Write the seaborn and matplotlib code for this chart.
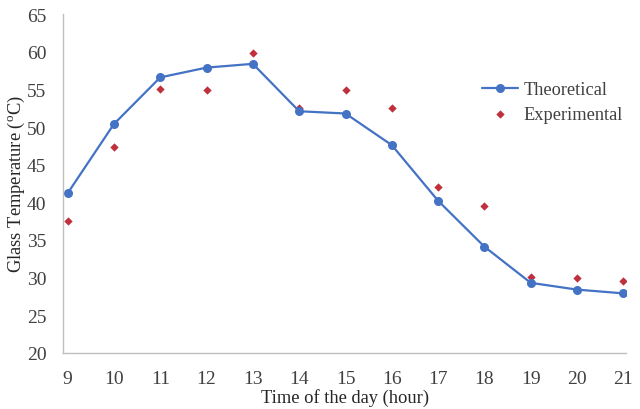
import pandas as pd
import seaborn as sns
import matplotlib.pyplot as plt

hours = [9, 10, 11, 12, 13, 14, 15, 16, 17, 18, 19, 20, 21]
theoretical = [41.2, 50.4, 56.6, 57.9, 58.4, 52.1, 51.8, 47.6, 40.2, 34.1, 29.3, 28.4, 27.9]
experimental = [37.5, 47.4, 55.1, 54.9, 59.8, 52.5, 54.9, 52.5, 42.1, 39.5, 30.1, 29.9, 29.6]

df = pd.DataFrame({"hour": hours, "theoretical": theoretical, "experimental": experimental})

sns.set_style("white")
plt.rcParams["font.family"] = ["Liberation Serif", "DejaVu Serif"]
plt.rcParams["mathtext.fontset"] = "custom"
plt.rcParams["mathtext.rm"] = "Liberation Serif"

blue = "#4472C4"
red = "#C0303C"

fig = plt.figure(figsize=(6.4, 4.1), dpi=100)
ax = fig.add_axes([0.0984, 0.137, 0.880, 0.826])

sns.lineplot(data=df, x="hour", y="theoretical", color=blue, linewidth=1.6,
             marker="o", markersize=6.5, markeredgewidth=0, label="Theoretical", ax=ax)
sns.scatterplot(data=df, x="hour", y="experimental", color=red, marker="D",
                s=18, linewidth=0, label="Experimental", ax=ax)

ax.set_xlim(8.9, 21.06)
ax.set_ylim(20, 65)
ax.set_xticks(hours)
ax.set_yticks(range(20, 66, 5))
ax.tick_params(axis="y", length=0, labelsize=14, colors="#404040", pad=12)
ax.tick_params(axis="x", length=0, labelsize=14, colors="#404040", pad=12.5)
ax.set_xlabel("Time of the day (hour)", fontsize=13.3, color="#262626", labelpad=0.5)
ax.set_ylabel("Glass Temperature ($^{\\rm o}$C)", fontsize=13.3, color="#262626", labelpad=0)

for s in ["top", "right"]:
    ax.spines[s].set_visible(False)
for s in ["left", "bottom"]:
    ax.spines[s].set_color("#BFBFBF")
    ax.spines[s].set_linewidth(1.0)

leg = ax.legend(loc="upper left", bbox_to_anchor=(0.741, 0.818), bbox_transform=fig.transFigure,
                frameon=False, fontsize=13.2, handlelength=2.0, handletextpad=0.3,
                labelspacing=0.45, borderaxespad=0)
for t in leg.get_texts():
    t.set_color("#404040")

fig.savefig("out.png", dpi=100)
